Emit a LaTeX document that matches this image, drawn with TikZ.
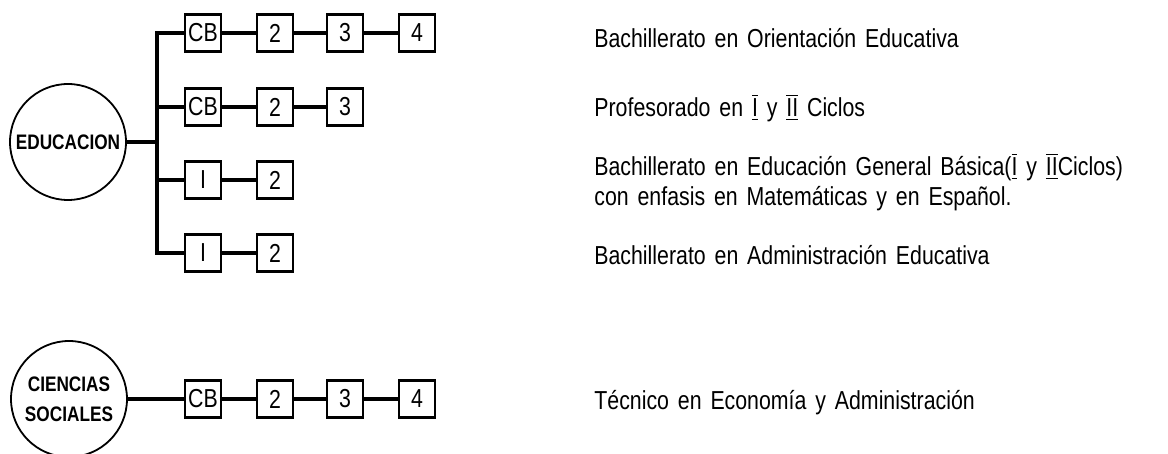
\documentclass[tikz,border=0pt]{standalone}
\usepackage{fontspec}
\setmainfont{Liberation Sans}[FakeStretch=0.82,WordSpace=1.5]
\usetikzlibrary{positioning}
\newcommand{\ciclo}[1]{$\overline{\underline{\mbox{#1}}}$}

\begin{document}
\begin{tikzpicture}
  [x=0.5pt,y=-0.5pt,every node/.style={inner sep=0pt},
   caja/.style={draw,line width=1.1pt,minimum width=18pt,minimum height=18.5pt,
     font=\fontsize{13}{13}\selectfont},
   area/.style={draw,circle,line width=0.9pt,minimum size=58pt,align=center,
     font=\bfseries\fontsize{10.5}{15}\selectfont},
   rama/.style={line width=1.7pt},
   texto/.style={anchor=west,align=left,font=\fontsize{13}{15}\selectfont}]

  \useasboundingbox (0,0) rectangle (1168,454);

  % educacion
  \node[area] (edu) at (68,142) {EDUCACION};
  \coordinate (tronco) at (157,142);

  \node[caja] (cb1) at (203,33)  {CB};
  \node[caja] (a2)  at (275,33)  {2};
  \node[caja] (a3)  at (345,33)  {3};
  \node[caja] (a4)  at (417,33)  {4};

  \node[caja] (cb2) at (203,107) {CB};
  \node[caja] (b2)  at (275,107) {2};
  \node[caja] (b3)  at (345,107) {3};

  \node[caja] (c1)  at (203,180) {I};
  \node[caja] (c2)  at (275,180) {2};

  \node[caja] (d1)  at (203,253) {I};
  \node[caja] (d2)  at (275,253) {2};

  \draw[rama] (edu) -- (tronco);
  \draw[rama] (cb1.west) -| (tronco);
  \draw[rama] (cb2.west) -| (tronco);
  \draw[rama] (c1.west) -| (tronco);
  \draw[rama] (d1.west) -| (tronco);
  \draw[rama] (cb1) -- (a2) -- (a3) -- (a4);
  \draw[rama] (cb2) -- (b2) -- (b3);
  \draw[rama] (c1) -- (c2);
  \draw[rama] (d1) -- (d2);

  \node[texto] (t1) at (594,38)  {Bachillerato en Orientación Educativa};
  \node[texto] (t2) at (594,108) {Profesorado en \ciclo{I} y \ciclo{II} Ciclos};
  \node[texto] (t3) at (594,182) {Bachillerato en Educación General Básica(\ciclo{I} y \ciclo{II}Ciclos)\\
                                  con enfasis en Matemáticas y en Español.};
  \node[texto] (t4) at (594,255) {Bachillerato en Administración Educativa};

  % ciencias sociales
  \node[area] (cs) at (69,399) {CIENCIAS\\SOCIALES};

  \node[caja] (e1) at (203,399) {CB};
  \node[caja] (e2) at (275,399) {2};
  \node[caja] (e3) at (345,399) {3};
  \node[caja] (e4) at (417,399) {4};

  \draw[rama] (cs) -- (e1) -- (e2) -- (e3) -- (e4);

  \node[texto] (t5) at (594,403) {Técnico en Economía y Administración};
\end{tikzpicture}
\end{document}
